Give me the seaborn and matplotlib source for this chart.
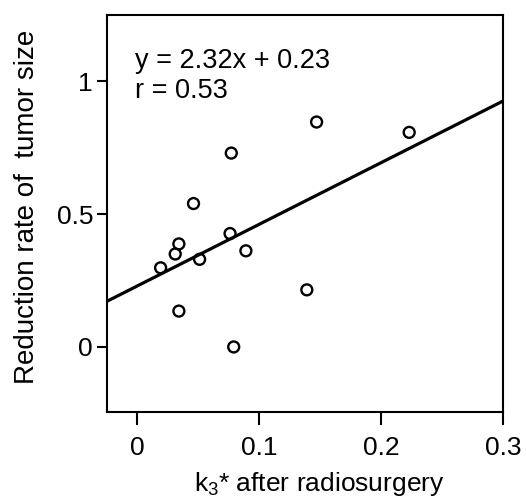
import numpy as np
import pandas as pd
import matplotlib
matplotlib.use('Agg')
import matplotlib.pyplot as plt
import seaborn as sns

# data
k3_after = [0.019, 0.031, 0.034, 0.034, 0.046, 0.051, 0.077, 0.076, 0.079, 0.089, 0.139, 0.147, 0.223]
reduction = [0.298, 0.350, 0.388, 0.135, 0.540, 0.330, 0.730, 0.427, 0.000, 0.362, 0.215, 0.847, 0.808]

slope = 2.32
intercept = 0.23
r_value = 0.53

x_ticks = [0, 0.1, 0.2, 0.3]
x_tick_labels = ['0', '0.1', '0.2', '0.3']
y_ticks = [0, 0.5, 1]
y_tick_labels = ['0', '0.5', '1']

df = pd.DataFrame({'k3': k3_after, 'reduction': reduction})

sns.set_style('white')
plt.rcParams['font.family'] = ['Liberation Sans', 'DejaVu Sans']
plt.rcParams['mathtext.fontset'] = 'custom'
plt.rcParams['mathtext.rm'] = 'Liberation Sans'
plt.rcParams['mathtext.it'] = 'Liberation Sans'
for key in ['text.color', 'axes.labelcolor', 'xtick.color', 'ytick.color']:
    plt.rcParams[key] = 'black'

fig = plt.figure(figsize=(5.26, 5.03), dpi=100)
ax = fig.add_axes([0.2034, 0.1809, 0.7529, 0.7893])

xlim = (-0.025, 0.3)
ylim = (-0.245, 1.25)

# regression line over the whole x range
line_x = np.array(xlim)
line_df = pd.DataFrame({'x': line_x, 'y': slope * line_x + intercept})
sns.lineplot(data=line_df, x='x', y='y', ax=ax, color='black', linewidth=2.3)

sns.scatterplot(data=df, x='k3', y='reduction', ax=ax, s=62,
                facecolor='none', edgecolor='black', linewidth=1.7, zorder=3)

ax.set_xlim(*xlim)
ax.set_ylim(*ylim)
ax.set_xticks(x_ticks)
ax.set_xticklabels(x_tick_labels)
ax.set_yticks(y_ticks)
ax.set_yticklabels(y_tick_labels)

ax.tick_params(axis='x', direction='out', length=9, width=1.5, pad=8,
               labelsize=19, bottom=True)
ax.tick_params(axis='y', direction='out', length=7, width=1.5, pad=3,
               labelsize=19, left=True)

for sp in ax.spines.values():
    sp.set_linewidth(1.5)
    sp.set_color('black')

ax.set_xlabel(r'k$_3$* after radiosurgery', fontsize=19)
ax.set_ylabel('Reduction rate of  tumor size', fontsize=20)
ax.xaxis.set_label_coords(0.535, -0.145)
ax.yaxis.set_label_coords(-0.17, 0.516)

ax.text(0.071, 0.866, f'y = {slope}x + {intercept}', transform=ax.transAxes,
        ha='left', va='baseline', fontsize=19.5)
ax.text(0.071, 0.791, f'r = {r_value}', transform=ax.transAxes,
        ha='left', va='baseline', fontsize=19.5)

fig.savefig('out.png', dpi=100)
